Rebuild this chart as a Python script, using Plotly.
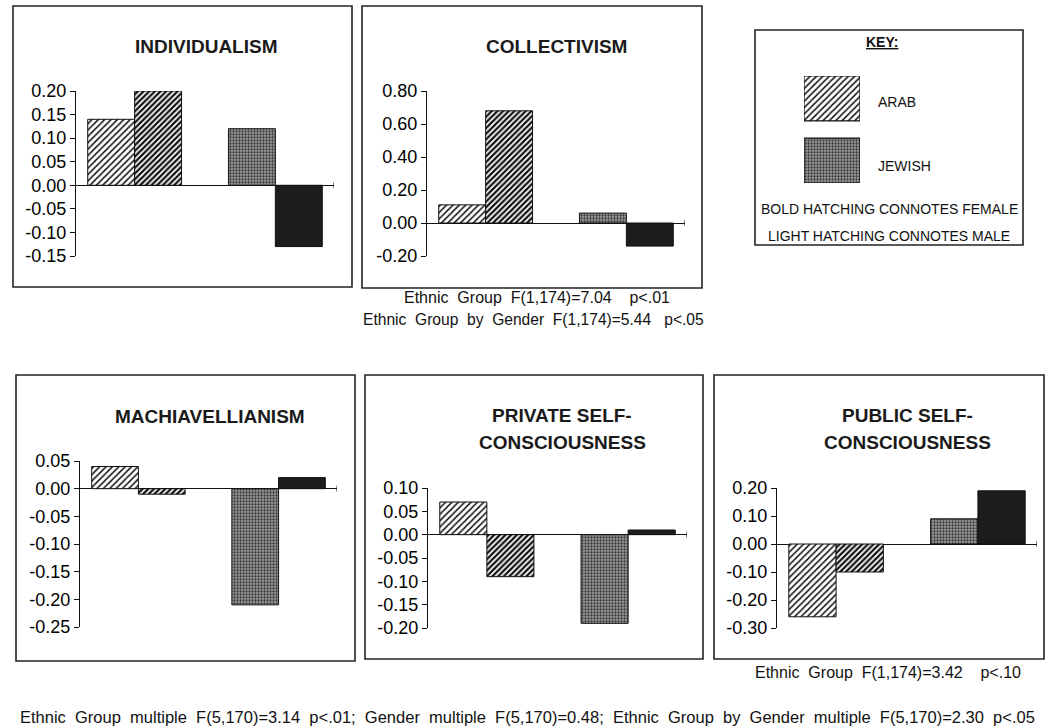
import plotly.graph_objects as go

W, H = 1045, 727
FONT = "Liberation Sans, Arial, Helvetica, sans-serif"

# ---- data: mean scores per group (Arab male, Arab female, Jewish male, Jewish female)
series_names = ["Arab male", "Arab female", "Jewish male", "Jewish female"]
individualism = [0.14, 0.20, 0.12, -0.13]
collectivism = [0.11, 0.68, 0.06, -0.14]
machiavellianism = [0.04, -0.01, -0.21, 0.02]
private_self = [0.07, -0.09, -0.19, 0.01]
public_self = [-0.26, -0.10, 0.09, 0.19]

individualism_ticks = [0.20, 0.15, 0.10, 0.05, 0.00, -0.05, -0.10, -0.15]
collectivism_ticks = [0.80, 0.60, 0.40, 0.20, 0.00, -0.20]
machiavellianism_ticks = [0.05, 0.00, -0.05, -0.10, -0.15, -0.20, -0.25]
private_ticks = [0.10, 0.05, 0.00, -0.05, -0.10, -0.15, -0.20]
public_ticks = [0.20, 0.10, 0.00, -0.10, -0.20, -0.30]

titles = [
    ["INDIVIDUALISM"],
    ["COLLECTIVISM"],
    ["MACHIAVELLIANISM"],
    ["PRIVATE SELF-", "CONSCIOUSNESS"],
    ["PUBLIC SELF-", "CONSCIOUSNESS"],
]
values = [individualism, collectivism, machiavellianism, private_self, public_self]
ticks = [individualism_ticks, collectivism_ticks, machiavellianism_ticks,
         private_ticks, public_ticks]

# ---- bar styles: light hatching = male, bold hatching = female
styles = [
    dict(color="white", pattern=dict(shape="/", fgcolor="#111", bgcolor="white",
                                     size=4.5, solidity=0.33)),
    dict(color="white", pattern=dict(shape="/", fgcolor="#111", bgcolor="white",
                                     size=4, solidity=0.55)),
    dict(color="#8f8f8f", pattern=dict(shape=".", fgcolor="#3a3a3a", bgcolor="#9c9c9c",
                                       size=3, solidity=0.45)),
    dict(color="#1c1c1c", pattern=dict(shape="", fgcolor="#1c1c1c", bgcolor="#1c1c1c")),
]

# ---- panel geometry in page pixels
# ax: x-axis pixel start/end, ay: pixel top/bottom of the value axis
# box: frame rectangle; tx/ty: centre of each title line
layout_px = [
    dict(ax=(76, 334), ay=(91, 256), box=(13, 6, 352, 287), tx=206, ty=[47]),
    dict(ax=(427, 685), ay=(91, 256), box=(362, 6, 702, 288), tx=556, ty=[47]),
    dict(ax=(80, 337), ay=(461, 627), box=(16, 375, 355, 661), tx=210, ty=[417]),
    dict(ax=(428, 687), ay=(488, 628), box=(365, 375, 703, 659), tx=562, ty=[415, 442]),
    dict(ax=(777, 1037), ay=(488, 628), box=(714, 375, 1044, 659), tx=907, ty=[415, 442]),
]


def px(x):
    return x / W


def py(y):
    return 1 - y / H


X_END = 5.5          # axis length in bar-width units
GROUP_STEP = 3.0     # distance between the Arab and Jewish pairs
FIRST_CENTER = 0.75  # centre of the first bar

fig = go.Figure()
shapes = []
annotations = []
layout_axes = {}

for i, (vals, tvals, geo, title) in enumerate(zip(values, ticks, layout_px, titles)):
    n = i + 1
    xa = "x" if n == 1 else f"x{n}"
    ya = "y" if n == 1 else f"y{n}"
    for k, (name, v) in enumerate(zip(series_names, vals)):
        group, gender = divmod(k, 2)
        xpos = FIRST_CENTER + GROUP_STEP * group + gender
        st = styles[k]
        fig.add_trace(go.Bar(
            x=[xpos], y=[v], width=1.0, name=name, showlegend=False,
            xaxis=xa, yaxis=ya,
            marker=dict(color=st["color"], pattern=st["pattern"],
                        line=dict(color="#111", width=1)),
        ))
    layout_axes[f"xaxis{'' if n == 1 else n}"] = dict(
        domain=[px(geo["ax"][0]), px(geo["ax"][1])], range=[0, X_END],
        visible=False, anchor=ya, fixedrange=True, automargin=False,
    )
    layout_axes[f"yaxis{'' if n == 1 else n}"] = dict(
        domain=[py(geo["ay"][1]), py(geo["ay"][0])],
        range=[min(tvals), max(tvals)], anchor=xa,
        tickvals=tvals, ticktext=[f"{t:.2f}" for t in tvals],
        ticks="outside", ticklen=5, tickwidth=1.2, tickcolor="#111",
        showline=True, linecolor="#111", linewidth=1.3,
        zeroline=True, zerolinecolor="#111", zerolinewidth=1.3,
        showgrid=False, tickfont=dict(family=FONT, size=18, color="#000"),
        fixedrange=True, automargin=False,
    )
    # small end tick on the horizontal axis
    shapes.append(dict(type="line", xref=xa, yref=ya, x0=X_END, x1=X_END,
                       ysizemode="pixel", yanchor=0, y0=-3, y1=3,
                       line=dict(color="#111", width=1)))
    # panel frame
    bx0, by0, bx1, by1 = geo["box"]
    shapes.append(dict(type="rect", xref="paper", yref="paper",
                       x0=px(bx0), x1=px(bx1), y0=py(by1), y1=py(by0),
                       line=dict(color="#222", width=1.6)))
    for line, ty in zip(title, geo["ty"]):
        annotations.append(dict(text=f"<b>{line}</b>", x=px(geo["tx"]), y=py(ty),
                                xref="paper", yref="paper", showarrow=False,
                                xanchor="center", yanchor="middle",
                                font=dict(family=FONT, size=19, color="#1a1a1a")))

# ---- key
key_labels = ["ARAB", "JEWISH"]
key_styles = [styles[0], styles[2]]
for j, (lab, st) in enumerate(zip(key_labels, key_styles)):
    fig.add_trace(go.Bar(
        x=[1], y=[0.79 - 0.58 * j], width=0.42, orientation="h", name=lab,
        showlegend=False, xaxis="x6", yaxis="y6",
        marker=dict(color=st["color"], pattern=st["pattern"],
                    line=dict(color="#111", width=1.2)),
    ))
layout_axes["xaxis6"] = dict(domain=[px(804), px(860)], range=[0, 1], visible=False,
                             anchor="y6", fixedrange=True, automargin=False)
layout_axes["yaxis6"] = dict(domain=[py(183), py(76)], range=[0, 1], visible=False,
                             anchor="x6", fixedrange=True, automargin=False)
shapes.append(dict(type="rect", xref="paper", yref="paper",
                   x0=px(755), x1=px(1023), y0=py(245), y1=py(30),
                   line=dict(color="#222", width=1.6)))

key_text = [
    ("<b><u>KEY:</u></b>", 882, 42, "center", 14),
    ("ARAB", 876, 102, "left", 14),
    ("JEWISH", 876, 166, "left", 14),
    ("BOLD HATCHING CONNOTES FEMALE", 889, 209, "center", 14),
    ("LIGHT HATCHING CONNOTES MALE", 889, 236, "center", 14),
]
for txt, x, y, anc, sz in key_text:
    annotations.append(dict(text=txt, x=px(x), y=py(y), xref="paper", yref="paper",
                            showarrow=False, xanchor=anc, yanchor="middle",
                            font=dict(family=FONT, size=sz, color="#111")))

# ---- statistics notes
SP = "&nbsp;"
notes = [
    (f"Ethnic{SP*2}Group{SP*2}F(1,174)=7.04{SP*4}p&lt;.01", 537, 297, "center", 16),
    (f"Ethnic{SP*2}Group{SP*2}by{SP*2}Gender{SP*2}F(1,174)=5.44{SP*3}p&lt;.05",
     533, 319, "center", 15.6),
    (f"Ethnic{SP*2}Group{SP*2}F(1,174)=3.42{SP*4}p&lt;.10", 888, 672, "center", 16),
    (f"Ethnic{SP*2}Group{SP*2}multiple{SP*2}F(5,170)=3.14{SP*2}p&lt;.01;{SP*2}"
     f"Gender{SP*2}multiple{SP*2}F(5,170)=0.48;{SP*2}Ethnic{SP*2}Group{SP*2}by{SP*2}"
     f"Gender{SP*2}multiple{SP*2}F(5,170)=2.30{SP*2}p&lt;.05", 18, 717, "left", 16.5),
]
for txt, x, y, anc, sz in notes:
    annotations.append(dict(text=txt, x=px(x), y=py(y), xref="paper", yref="paper",
                            showarrow=False, xanchor=anc, yanchor="middle",
                            font=dict(family=FONT, size=sz, color="#111")))

fig.update_layout(
    template="none",
    width=W, height=H, autosize=False,
    margin=dict(l=0, r=0, t=0, b=0, pad=0, autoexpand=False),
    paper_bgcolor="white", plot_bgcolor="rgba(0,0,0,0)",
    barmode="overlay", showlegend=False,
    shapes=shapes, annotations=annotations,
    **layout_axes,
)

fig.write_html("out.html", config={"displayModeBar": False})
